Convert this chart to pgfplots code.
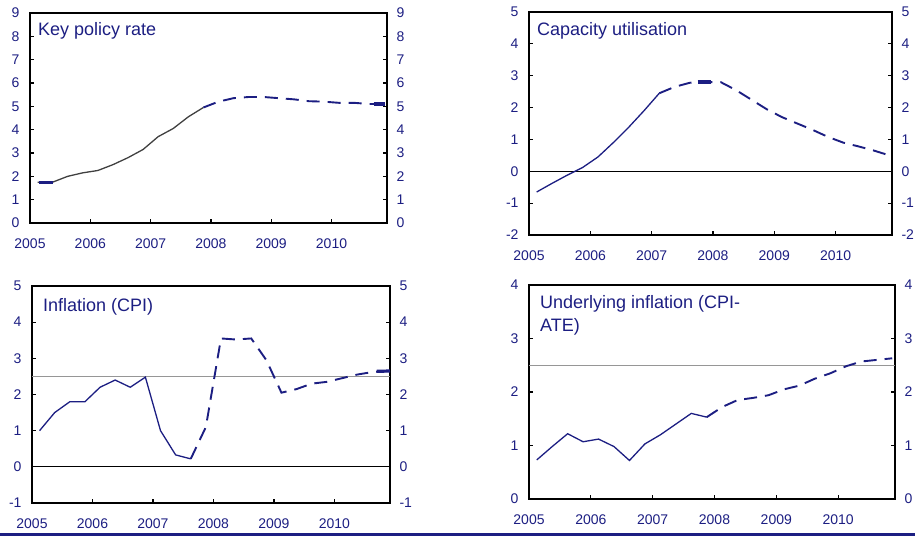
\documentclass[border=0pt]{standalone}
\usepackage{pgfplots}
\pgfplotsset{compat=1.18}
\usepackage{fontspec}
\setmainfont{Liberation Sans}
\definecolor{nb}{RGB}{28,30,130}
\definecolor{tgt}{RGB}{150,150,150}

\pgfplotsset{
  panel/.style={scale only axis, anchor=south west,
    xmin=2005, xmax=2010.92,
    xtick={2005,2006,2007,2008,2009,2010},
    xticklabels={2005,2006,2007,2008,2009,2010},
    xtick pos=left, tick align=inside, major tick length=4pt,
    tick style={black, line width=1.2pt},
    axis line style={black, line width=1.5pt},
    /pgf/number format/assume math mode=true,
    ticklabel style={font=\fontsize{14}{14}\selectfont, text=nb},
    xticklabel style={yshift=-12pt},
    yticklabel style={xshift=-7pt}},
  rlabels/.style={scale only axis, anchor=south west,
    xmin=2005, xmax=2010.92, xtick=\empty,
    axis line style={draw=none}, ytick style={draw=none},
    yticklabel pos=right,
    /pgf/number format/assume math mode=true,
    ticklabel style={font=\fontsize{14}{14}\selectfont, text=nb},
    yticklabel style={xshift=6pt}},
  hist/.style={nb, line width=1.3pt},
  proj/.style={nb, line width=1.9pt, dash pattern=on 13pt off 8pt},
  thick seg/.style={nb, line width=3.2pt}
}
\tikzset{ptitle/.style={anchor=north west, inner sep=0pt, align=left,
    font=\fontsize{18}{23}\selectfont, text=nb}}

\begin{document}
\begin{tikzpicture}
\useasboundingbox (0,0) rectangle (915pt,538pt);
\clip (0,0) rectangle (915pt,538pt);

% key policy rate
\begin{axis}[panel, at={(30pt,315pt)}, width=357pt, height=210pt,
  ymin=0, ymax=9, ytick={0,1,...,9}]
\addplot[hist, black!75] coordinates {(2005.125,1.75) (2005.375,1.75) (2005.625,2.0)
  (2005.875,2.15) (2006.125,2.25) (2006.375,2.5) (2006.625,2.8) (2006.875,3.15)
  (2007.125,3.7) (2007.375,4.05) (2007.625,4.55) (2007.875,4.95)};
\addplot[proj] coordinates {(2007.875,4.95) (2008.125,5.2) (2008.375,5.35)
  (2008.625,5.4) (2008.875,5.4) (2009.125,5.35) (2009.375,5.3) (2009.625,5.22)
  (2009.875,5.2) (2010.125,5.15) (2010.375,5.15) (2010.625,5.1) (2010.875,5.1)};
\addplot[thick seg] coordinates {(2005.15,1.75) (2005.38,1.75)};
\addplot[thick seg] coordinates {(2010.7,5.1) (2010.88,5.1)};
\node[ptitle, xshift=8pt, yshift=-9pt] at (rel axis cs:0,1) {Key policy rate};
\end{axis}
\begin{axis}[rlabels, at={(30pt,315pt)}, width=357pt, height=210pt,
  ymin=0, ymax=9, ytick={0,1,...,9}]
\end{axis}

% capacity utilisation
\begin{axis}[panel, at={(529pt,303pt)}, width=363pt, height=223pt,
  ymin=-2, ymax=5, ytick={-2,-1,...,5}]
\addplot[black, line width=1pt] coordinates {(2005,0) (2010.92,0)};
\addplot[hist] coordinates {(2005.125,-0.65) (2005.375,-0.38) (2005.625,-0.12)
  (2005.875,0.12) (2006.125,0.45) (2006.375,0.9) (2006.625,1.38) (2006.875,1.9)
  (2007.125,2.45)};
\addplot[proj] coordinates {(2007.125,2.45) (2007.375,2.65) (2007.625,2.78)
  (2007.875,2.8) (2008.125,2.8) (2008.375,2.55) (2008.625,2.25) (2008.875,1.95)
  (2009.125,1.7) (2009.375,1.5) (2009.625,1.3) (2009.875,1.08) (2010.125,0.9)
  (2010.375,0.78) (2010.625,0.65) (2010.875,0.5)};
\addplot[thick seg] coordinates {(2007.75,2.8) (2007.97,2.8)};
\node[ptitle, xshift=8pt, yshift=-10pt] at (rel axis cs:0,1) {Capacity utilisation};
\end{axis}
\begin{axis}[rlabels, at={(529pt,303pt)}, width=363pt, height=223pt,
  ymin=-2, ymax=5, ytick={-2,-1,...,5}]
\end{axis}

% inflation (CPI)
\begin{axis}[panel, at={(32pt,35pt)}, width=358pt, height=217pt,
  ymin=-1, ymax=5, ytick={-1,0,...,5}]
\addplot[black, line width=1pt] coordinates {(2005,0) (2010.92,0)};
\addplot[tgt, line width=1.2pt] coordinates {(2005,2.5) (2010.92,2.5)};
\addplot[hist] coordinates {(2005.125,1.0) (2005.375,1.5) (2005.625,1.8)
  (2005.875,1.8) (2006.125,2.2) (2006.375,2.4) (2006.625,2.2) (2006.875,2.48)
  (2007.125,1.0) (2007.375,0.33) (2007.625,0.22)};
\addplot[proj] coordinates {(2007.625,0.22) (2007.875,1.1) (2008.125,3.55)
  (2008.375,3.52) (2008.625,3.55) (2008.875,2.95) (2009.125,2.05) (2009.375,2.15)
  (2009.625,2.3) (2009.875,2.35) (2010.125,2.45) (2010.375,2.55) (2010.625,2.62)
  (2010.875,2.65)};
\addplot[thick seg] coordinates {(2010.7,2.64) (2010.92,2.65)};
\node[ptitle, xshift=11pt, yshift=-12pt] at (rel axis cs:0,1) {Inflation (CPI)};
\end{axis}
\begin{axis}[rlabels, at={(32pt,35pt)}, width=358pt, height=217pt,
  ymin=-1, ymax=5, ytick={-1,0,...,5}]
\end{axis}

% underlying inflation (CPI-ATE)
\begin{axis}[panel, at={(529pt,39pt)}, width=366pt, height=214pt,
  ymin=0, ymax=4, ytick={0,1,...,4}]
\addplot[tgt, line width=1.2pt] coordinates {(2005,2.5) (2010.92,2.5)};
\addplot[hist] coordinates {(2005.125,0.73) (2005.375,0.98) (2005.625,1.22)
  (2005.875,1.07) (2006.125,1.12) (2006.375,0.98) (2006.625,0.72) (2006.875,1.03)
  (2007.125,1.2) (2007.375,1.4) (2007.625,1.6) (2007.875,1.53)};
\addplot[proj] coordinates {(2007.875,1.53) (2008.125,1.72) (2008.375,1.85)
  (2008.625,1.89) (2008.875,1.94) (2009.125,2.05) (2009.375,2.12) (2009.625,2.25)
  (2009.875,2.35) (2010.125,2.48) (2010.375,2.57) (2010.625,2.6) (2010.875,2.63)};
\node[ptitle, xshift=11pt, yshift=-10pt] at (rel axis cs:0,1) {Underlying inflation (CPI-\\ATE)};
\end{axis}
\begin{axis}[rlabels, at={(529pt,39pt)}, width=366pt, height=214pt,
  ymin=0, ymax=4, ytick={0,1,...,4}]
\end{axis}

\draw[nb, line width=2.5pt] (0,3.3pt) -- (915pt,3.3pt);
\end{tikzpicture}
\end{document}
